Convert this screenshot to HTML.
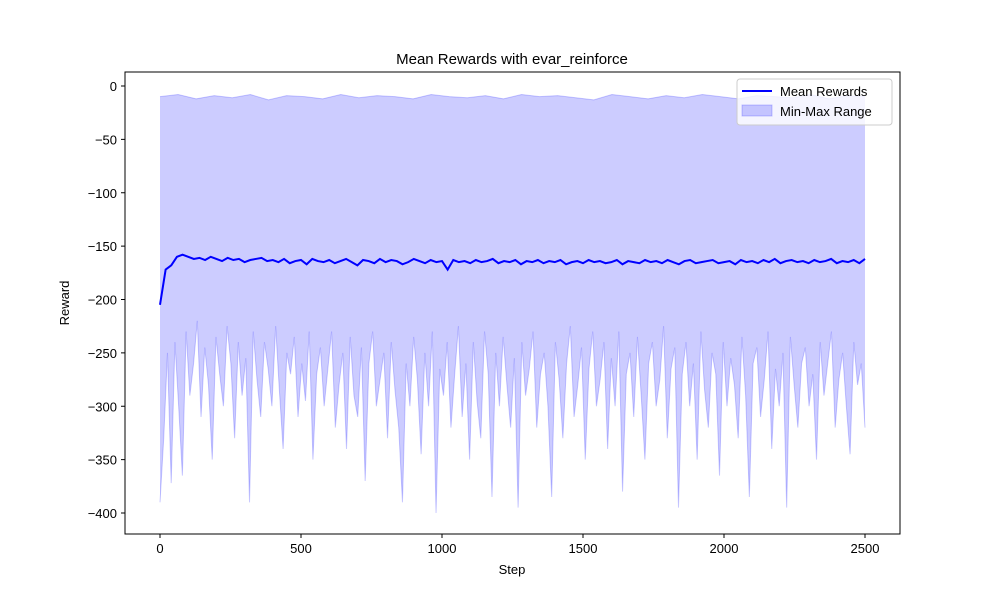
<!DOCTYPE html>
<html><head><meta charset="utf-8">
<style>
body{margin:0;background:#fff;}
svg{display:block;font-family:"Liberation Sans","DejaVu Sans",sans-serif;}
</style></head>
<body>
<svg id="chart" width="1000" height="600">
<rect x="0" y="0" width="1000" height="600" fill="#fff"/>
<text x="512" y="64" font-size="15" text-anchor="middle">Mean Rewards with evar_reinforce</text>
<g id="plot"></g>
<rect x="125" y="72" width="775" height="462" fill="none" stroke="#000" stroke-width="1"/>
<g id="xticks"></g><g id="yticks"></g>
<text x="512" y="574" font-size="13" text-anchor="middle">Step</text>
<text x="0" y="0" font-size="13" text-anchor="middle" transform="translate(69,303) rotate(-90)">Reward</text>
<g>
<rect x="737" y="79" width="155" height="46" rx="3" fill="#fff" fill-opacity="0.8" stroke="#ccc"/>
<line x1="742" y1="91" x2="772" y2="91" stroke="#0000ff" stroke-width="2"/>
<text x="780" y="96" font-size="13">Mean Rewards</text>
<rect x="742" y="105" width="30" height="11" fill="#0000ff" fill-opacity="0.2" stroke="#0000ff" stroke-opacity="0.2"/>
<text x="780" y="116" font-size="13">Min-Max Range</text>
</g>
</svg>
<script>
const meanVals=[-205,-172,-168,-160,-158,-160,-162,-161,-163,-160,-162,-164,-161,-163,-162,-165,-163,-162,-161,-164,-163,-165,-162,-166,-164,-163,-167,-162,-164,-165,-163,-166,-164,-162,-165,-168,-163,-164,-166,-162,-165,-163,-164,-167,-165,-162,-164,-166,-163,-165,-164,-172,-163,-165,-164,-166,-163,-165,-164,-162,-166,-164,-165,-163,-167,-164,-165,-163,-166,-164,-165,-163,-167,-165,-164,-166,-163,-165,-164,-166,-165,-163,-167,-164,-165,-166,-163,-165,-164,-166,-163,-165,-167,-164,-163,-166,-165,-164,-163,-166,-165,-164,-167,-163,-165,-164,-166,-163,-165,-162,-166,-164,-163,-165,-164,-166,-163,-165,-164,-162,-166,-164,-165,-163,-166,-162];
const minVals=[-390,-330,-250,-372,-240,-300,-365,-230,-290,-260,-220,-310,-245,-280,-350,-235,-270,-300,-225,-260,
-330,-240,-290,-255,-390,-230,-275,-310,-240,-265,-300,-225,-285,-340,-250,-270,-235,-310,-260,-295,
-230,-350,-270,-245,-300,-265,-230,-320,-280,-250,-340,-235,-290,-310,-245,-370,-260,-230,-300,-275,
-250,-330,-240,-285,-320,-390,-260,-300,-235,-275,-345,-250,-300,-230,-400,-265,-290,-240,-320,-270,
-225,-310,-260,-350,-240,-295,-330,-230,-270,-385,-250,-300,-235,-280,-320,-255,-395,-240,-290,-265,
-230,-320,-270,-250,-300,-385,-240,-275,-330,-260,-225,-310,-280,-245,-350,-265,-230,-300,-275,-240,
-340,-255,-300,-230,-380,-270,-250,-310,-235,-290,-350,-260,-240,-300,-275,-225,-330,-265,-245,-395,
-270,-240,-300,-260,-350,-230,-285,-320,-250,-270,-365,-240,-300,-255,-280,-330,-235,-290,-385,-260,
-245,-310,-275,-230,-340,-265,-300,-250,-395,-235,-280,-320,-260,-245,-300,-270,-350,-240,-290,-260,
-230,-320,-275,-250,-300,-345,-240,-280,-260,-320];
const maxVals=[-10,-8,-12,-9,-11,-8,-13,-9,-10,-12,-8,-11,-9,-10,-12,-8,-10,-11,-9,-12,-8,-10,-9,-11,-13,-8,-10,-12,-9,-11,-8,-10,-12,-9,-10,-11,-8,-12,-9,-10];
const xTicks=[0,500,1000,1500,2000,2500];
const yTicks=[0,-50,-100,-150,-200,-250,-300,-350,-400];
const X_MAX_STEP=2500;

const NS="http://www.w3.org/2000/svg";
const xs=v=>160+(v)*705/2500;
const ys=v=>86+(-v)*427/400;
const stepOf=(i,n)=>i*X_MAX_STEP/(n-1);
const plot=document.getElementById('plot');

const topPts=maxVals.map((v,i)=>[xs(stepOf(i,maxVals.length)),ys(v)]);
const botPts=minVals.map((v,i)=>[xs(stepOf(i,minVals.length)),ys(v)]);
const fill=document.createElementNS(NS,'polygon');
fill.setAttribute('points',topPts.concat(botPts.slice().reverse()).map(p=>p.join(',')).join(' '));
fill.setAttribute('fill','#0000ff');fill.setAttribute('fill-opacity','0.2');


plot.appendChild(fill);
[[topPts,'max-edge'],[botPts,'min-edge']].forEach(([pts,nm])=>{
 const l=document.createElementNS(NS,'polyline');
 l.setAttribute('points',pts.map(p=>p.join(',')).join(' '));
 l.setAttribute('fill','none');l.setAttribute('stroke','#0000ff');l.setAttribute('stroke-opacity','0.2');
 
 
 plot.appendChild(l);
});
const ml=document.createElementNS(NS,'polyline');
ml.setAttribute('points',meanVals.map((v,i)=>xs(stepOf(i,meanVals.length))+','+ys(v)).join(' '));
ml.setAttribute('fill','none');ml.setAttribute('stroke','#0000ff');ml.setAttribute('stroke-width','2');


plot.appendChild(ml);

const xg=document.getElementById('xticks');
xTicks.forEach(t=>{
 const g=document.createElementNS(NS,'g');
 
 
 g.innerHTML=`<line x1="${xs(t)}" y1="534" x2="${xs(t)}" y2="538" stroke="#000"/><text x="${xs(t)}" y="553" font-size="13" text-anchor="middle">${t}</text>`;
 xg.appendChild(g);
});
const yg=document.getElementById('yticks');
yTicks.forEach(t=>{
 const g=document.createElementNS(NS,'g');
 
 
 g.innerHTML=`<line x1="121" y1="${ys(t)}" x2="125" y2="${ys(t)}" stroke="#000"/><text x="117" y="${ys(t)+5}" font-size="13" text-anchor="end">${t===0?'0':'\u2212'+(-t)}</text>`;
 yg.appendChild(g);
});
</script>
</body></html>
